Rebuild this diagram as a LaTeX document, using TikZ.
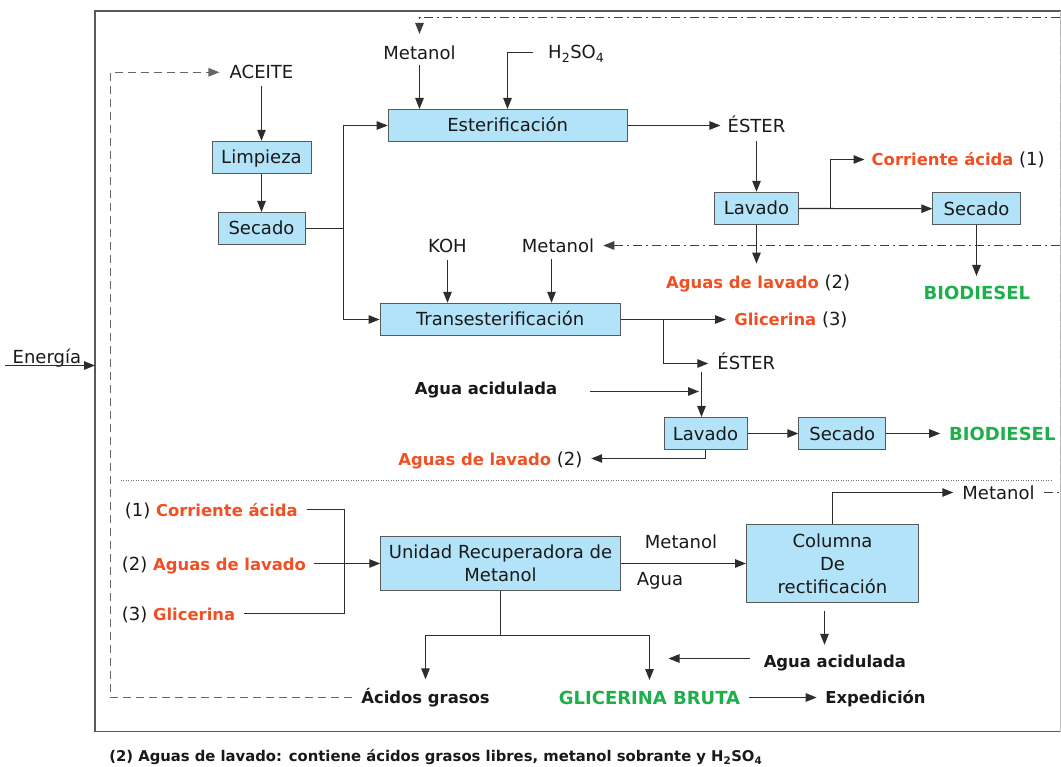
\documentclass[tikz,border=0pt]{standalone}
\usepackage{fontspec}
\setmainfont{DejaVu Sans}
\usetikzlibrary{arrows.meta}
\definecolor{boxblue}{RGB}{179,227,248}
\definecolor{redlab}{RGB}{240,80,35}
\definecolor{greenlab}{RGB}{30,175,75}
\definecolor{lncol}{RGB}{45,45,45}
\newcommand{\fsreg}{\fontsize{18}{23}\selectfont}
\newcommand{\fsbold}{\fontsize{16.4}{20}\selectfont\bfseries}
\newcommand{\fscaps}{\fontsize{18}{22}\selectfont\bfseries}
\newcommand{\fsfoot}{\fontsize{14.8}{18}\selectfont\bfseries}
\begin{document}
\begin{tikzpicture}[x=1pt,y=-1pt,
  box/.style={draw=black!65, fill=boxblue, line width=1pt, inner sep=0pt, font=\fsreg, text=black!90, text height=13pt, text depth=0pt},
  mbox/.style={draw=black!65, fill=boxblue, line width=1pt, inner sep=0pt, font=\fsreg, text=black!90, align=center},
  txt/.style={inner sep=0pt, font=\fsreg, text=black!90, text height=13pt, text depth=0pt},
  btxt/.style={inner sep=0pt, font=\fsbold, text=black!90, text height=12pt, text depth=0pt},
  gtxt/.style={inner sep=0pt, font=\fscaps, text=greenlab, text height=13pt, text depth=0pt},
  ln/.style={draw=lncol, line width=1.1pt},
  arr/.style={ln, -{Triangle[length=11pt,width=8.5pt]}},
  dsh/.style={draw=black!60, line width=1.1pt, dash pattern=on 8pt off 5pt},
  dd/.style={draw=black!75, line width=1.1pt, dash pattern=on 9pt off 4pt on 2pt off 4pt},
  tip/.style={-{Triangle[length=11pt,width=8.5pt]}}
]
\useasboundingbox (0,0) rectangle (1061,767);

% frame
\draw[draw=black!65, line width=1.1pt] (1061,11) -- (95,11) -- (95,731.5) -- (1061,731.5);
\draw[black!25, line width=1pt] (1060.3,11) -- (1060.3,731.5);
\coordinate (fl) at (95,11);
% dotted separator
\draw[black!55, line width=1pt, dash pattern=on 1pt off 1.5pt] (120.5,480.5) -- (1053,480.5);

% upper part nodes
\node[txt] (aceite) at (261.5,72.3) {ACEITE};
\node[box, minimum width=99pt, minimum height=32pt] (limp) at (261.5,157.3) {Limpieza};
\node[box, minimum width=87pt, minimum height=32pt] (sec1) at (261.5,228.5) {Secado};
\node[txt] (met1) at (419.5,52.7) {Metanol};
\node[txt] (h2so4) at (576.3,52.5) {H\textsubscript{2}SO\textsubscript{4}};
\node[box, minimum width=239pt, minimum height=32pt] (ester) at (507.7,125.5) {Esterificación};
\node[txt] (ester1) at (756.5,126.5) {ÉSTER};
\node[box, minimum width=83.5pt, minimum height=32.4pt] (lav1) at (756.5,208.5) {Lavado};
\node[box, minimum width=87.3pt, minimum height=32pt] (sec2) at (976.5,208.7) {Secado};
\node[txt] (corr1) at (958.2,159.5) {{\fsbold\color{redlab}Corriente ácida} (1)};
\node[txt] (agl1) at (758.1,282.3) {{\fsbold\color{redlab}Aguas de lavado} (2)};
\node[gtxt] (bio1) at (976.9,292.7) {BIODIESEL};
\node[txt] (koh) at (447.5,246) {KOH};
\node[txt] (met3) at (558,246) {Metanol};
\node[box, minimum width=240pt, minimum height=32.4pt] (trans) at (500.1,319.5) {Transesterificación};
\node[txt] (glic1) at (790.9,319.5) {{\fsbold\color{redlab}Glicerina} (3)};
\node[txt] (ester2) at (746.3,363.5) {ÉSTER};
\node[btxt] (agua1) at (486,389) {Agua acidulada};
\node[box, minimum width=83pt, minimum height=32pt] (lav2) at (705.5,433.5) {Lavado};
\node[box, minimum width=87pt, minimum height=32pt] (sec3) at (842.3,433.5) {Secado};
\node[gtxt] (bio2) at (1002.3,433.5) {BIODIESEL};
\node[txt] (agl2) at (490.4,458.5) {{\fsbold\color{redlab}Aguas de lavado} (2)};
\node[txt] (energia) at (46.9,356.7) {Energía};

% lower part nodes
\node[txt] (corr2) at (211.3,509.5) {(1) {\fsbold\color{redlab}Corriente ácida}};
\node[txt] (agl3) at (213.9,563.5) {(2) {\fsbold\color{redlab}Aguas de lavado}};
\node[txt] (glic2) at (178.5,613.5) {(3) {\fsbold\color{redlab}Glicerina}};
\node[mbox, minimum width=239.5pt, minimum height=54.7pt] (unidad) at (500.5,563.5) {Unidad Recuperadora de\\Metanol};
\node[mbox, minimum width=172pt, minimum height=78.4pt] (columna) at (832.5,563.5) {Columna\\De\\rectificación};
\node[txt] (metlab) at (681,541.7) {Metanol};
\node[txt] (agualab) at (660,579) {Agua};
\node[txt] (met4) at (998.5,492.5) {Metanol};
\node[btxt] (agua2) at (834.9,661.7) {Agua acidulada};
\node[btxt] (acidos) at (425.5,697.5) {Ácidos grasos};
\node[gtxt] (glyb) at (649.5,697.5) {GLICERINA BRUTA};
\node[btxt] (exped) at (875.5,697.5) {Expedición};
\node[inner sep=0pt, font=\fsfoot, text=black!90, text height=11pt, text depth=0pt] (foot) at (435.8,756) {(2) Aguas de lavado: contiene ácidos grasos libres, metanol sobrante y H\textsubscript{2}SO\textsubscript{4}};

% coordinates
\coordinate (jl) at (110.5,697.5);
\coordinate (j1) at (343.5,228.5);
\coordinate (jh) at (507.5,52.5);
\coordinate (rt) at (1060.3,17.5);
\coordinate (rb) at (1060.3,492.5);
\coordinate (rm) at (1060.3,245.5);
\coordinate (jb) at (830.5,208.5);
\coordinate (jt) at (663.5,319.5);
\coordinate (je) at (701.5,372.3);
\coordinate (en0) at (5,365.5);
\coordinate (jm) at (344.5,563.5);
\coordinate (ju) at (500.5,635.5);

% connectors upper
\draw[dsh, tip, shorten <=9pt, shorten >=10pt] (acidos.west) -- (acidos.west -| jl) |- (aceite.west);
\draw[arr, shorten <=7pt] (aceite.south) -- (limp.north);
\draw[arr] (limp.south) -- (sec1.north);
\draw[ln] (sec1.east) -- (j1);
\draw[arr] (j1) |- (ester.west);
\draw[arr] (j1) |- (trans.west);
\draw[arr, shorten <=6pt] (met1.south) -- (met1.south |- ester.north);
\draw[arr, shorten <=15pt] (h2so4.west) -| (jh |- ester.north);
\draw[dd, shorten <=9pt] (met4.east) -- (rb);
\draw[dd, draw=black!30] (rb) -- (rt);
\draw[dd, tip, shorten >=12pt] (rt) -| (met1.north);
\draw[dd, tip, shorten >=9pt] (rm) -- (rm -| met3.east);
\draw[arr, shorten >=7pt] (ester.east) -- (ester.east -| ester1.west);
\draw[arr, shorten <=8pt] (ester1.south) -- (ester1.south |- lav1.north);
\draw[arr] (lav1.east) -- (sec2.west);
\draw[arr, shorten >=7pt] (jb) |- (corr1.west);
\draw[arr, shorten >=12pt] (lav1.south) -- (lav1.south |- agl1.north);
\draw[arr, shorten >=10pt] (sec2.south) -- (sec2.south |- bio1.north);
\draw[arr, shorten <=6pt] ([xshift=-6.5pt]met3.south) -- ([xshift=-6.5pt]met3.south |- trans.north);
\draw[arr, shorten <=7pt] (koh.south) -- (koh.south |- trans.north);
\draw[arr, shorten >=8pt] (trans.east) -- (trans.east -| glic1.west);
\draw[arr, shorten >=9pt] (jt) |- (ester2.west);
\draw[arr] (je) -- (je |- lav2.north);
\draw[arr, shorten <=33pt, shorten >=2.5pt] ([yshift=-2.5pt]agua1.east) -- ([yshift=-2.5pt]agua1.east -| je);
\draw[arr] (lav2.east) -- (sec3.west);
\draw[arr, shorten >=8.7pt] (sec3.east) -- (sec3.east -| bio2.west);
\draw[arr, shorten >=8.7pt] (lav2.south) |- (agl2.east);
\draw[arr] (en0) -- (en0 -| fl);

% connectors lower
\draw[ln, shorten <=8.6pt] (corr2.east) -| (jm);
\draw[ln, shorten <=8.4pt] (glic2.east) -| (jm);
\draw[arr, shorten <=7.6pt] (agl3.east) -- (agl3.east -| unidad.west);
\draw[ln] (unidad.south) -- (ju);
\draw[arr, shorten >=12pt] (ju) -| (acidos.north);
\draw[arr, shorten >=10.8pt] (ju) -| (glyb.north);
\draw[arr] (unidad.east) -- (columna.west);
\draw[arr, shorten >=9pt] (columna.north) |- (met4.west);
\draw[arr, shorten <=7.3pt, shorten >=10.7pt] ([xshift=-8pt]columna.south) -- ([xshift=-8pt]columna.south |- agua2.north);
\draw[arr, shorten <=13.7pt, shorten >=19pt] ([yshift=3.2pt]agua2.west) -- ([yshift=3.2pt]agua2.west -| glyb.north);
\draw[arr, shorten <=8.7pt, shorten >=8.5pt] (glyb.east) -- (exped.west);
\end{tikzpicture}
\end{document}
